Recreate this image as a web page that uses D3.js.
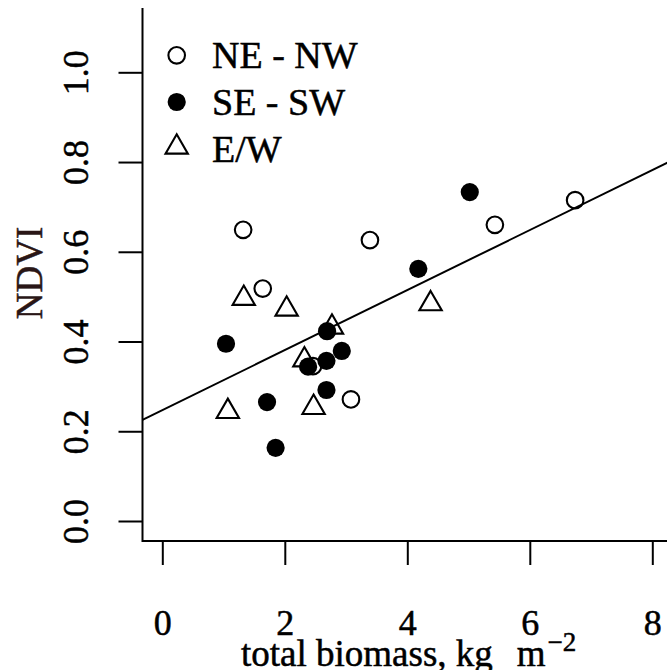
<!DOCTYPE html>
<html>
<head>
<meta charset="utf-8">
<script src="https://cdn.jsdelivr.net/npm/d3@7"></script>
<style>
  html, body { margin: 0; padding: 0; background: #fff; }
  svg { display: block; }
  svg text { font-family: "Liberation Serif", "Times New Roman", serif !important; }
</style>
</head>
<body>
<svg id="chart" width="667" height="670" font-family="'Liberation Serif', serif"></svg>
<script>
// Total biomass (kg m^-2) vs NDVI, grouped by slope aspect
const neNwX = [1.32, 1.64, 3.39, 5.43, 6.74, 3.08, 2.46];
const neNwY = [0.649, 0.518, 0.626, 0.660, 0.715, 0.271, 0.345];

const seSwX = [1.04, 1.71, 1.85, 2.38, 2.68, 2.93, 2.69, 2.68, 5.02, 4.18];
const seSwY = [0.395, 0.265, 0.163, 0.344, 0.357, 0.379, 0.423, 0.292, 0.733, 0.562];

const ewX = [1.33, 2.03, 1.07, 2.32, 2.77, 2.47, 4.38];
const ewY = [0.496, 0.472, 0.244, 0.359, 0.432, 0.253, 0.484];

const xTicks = [0, 2, 4, 6, 8];
const yTicks = [0.0, 0.2, 0.4, 0.6, 0.8, 1.0];

// Linear fit NDVI = a + b * biomass
const fitIntercept = 0.247;
const fitSlope = 0.0669;

const legendLabels = ["NE - NW", "SE - SW", "E/W"];

const serif = "'Liberation Serif', 'Times New Roman', serif";
const textStroke = 0.5;
const svg = d3.select("#chart");

const x = d3.scaleLinear().domain([0, 8]).range([162.3, 652.3]);
const y = d3.scaleLinear().domain([0, 1]).range([521, 72.3]);

// Plot region bounds (data units)
const xMin = x.invert(142.5), xMax = x.invert(700);
const yMin = y.invert(541), yMax = y.invert(8);

const circleR = 8.3;
const filledR = 9.1;
const markStroke = 2.1;
// Triangle geometry in the style of R's pch = 2
const triR = 1.555 * circleR, triXc = 1.347 * circleR, triYc = 0.778 * circleR;
const triPath = `M0,${-triR}L${triXc},${triYc}L${-triXc},${triYc}Z`;

svg.append("defs").append("clipPath").attr("id", "plotClip")
  .append("rect")
  .attr("x", x(xMin)).attr("y", y(yMax))
  .attr("width", x(xMax) - x(xMin)).attr("height", y(yMin) - y(yMax));

// Axes
const xAxis = d3.axisBottom(x).tickValues(xTicks).tickSize(24).tickSizeOuter(0)
  .tickFormat(d3.format("d"));
const gx = svg.append("g").attr("transform", `translate(0,${y(yMin)})`).call(xAxis)
  .attr("font-family", serif).attr("font-size", 36);
gx.select(".domain").remove();
gx.selectAll(".tick line").attr("stroke", "#000").attr("stroke-width", 2);
gx.selectAll(".tick text")
  .attr("y", 94).attr("dy", 0)
  .attr("font-family", serif).attr("font-size", 36)
  .attr("fill", "#000").attr("stroke", "#000").attr("stroke-width", textStroke);

const yAxis = d3.axisLeft(y).tickValues(yTicks).tickSize(24).tickSizeOuter(0)
  .tickFormat(d3.format(".1f"));
const gy = svg.append("g").attr("transform", `translate(${x(xMin)},0)`).call(yAxis)
  .attr("font-family", serif).attr("font-size", 36);
gy.select(".domain").remove();
gy.selectAll(".tick line").attr("stroke", "#000").attr("stroke-width", 2);
gy.selectAll(".tick text")
  .attr("x", null).attr("dy", 0)
  .attr("transform", "translate(-54.5,0) rotate(-90)")
  .attr("text-anchor", "middle")
  .attr("font-family", serif).attr("font-size", 36)
  .attr("fill", "#000").attr("stroke", "#000").attr("stroke-width", textStroke);

// L-shaped frame
svg.append("path")
  .attr("d", `M${x(xMin)},${y(yMax)}L${x(xMin)},${y(yMin)}L${x(xMax)},${y(yMin)}`)
  .attr("fill", "none").attr("stroke", "#000").attr("stroke-width", 2);

// Regression line
svg.append("line")
  .attr("clip-path", "url(#plotClip)")
  .attr("x1", x(xMin)).attr("y1", y(fitIntercept + fitSlope * xMin))
  .attr("x2", x(xMax)).attr("y2", y(fitIntercept + fitSlope * xMax))
  .attr("stroke", "#000").attr("stroke-width", 2);

// Points
const plot = svg.append("g").attr("clip-path", "url(#plotClip)");

plot.selectAll("path.ew").data(d3.zip(ewX, ewY)).join("path")
  .attr("class", "ew")
  .attr("d", triPath)
  .attr("transform", d => `translate(${x(d[0])},${y(d[1])})`)
  .attr("fill", "none").attr("stroke", "#000").attr("stroke-width", markStroke);

plot.selectAll("circle.nenw").data(d3.zip(neNwX, neNwY)).join("circle")
  .attr("class", "nenw")
  .attr("cx", d => x(d[0])).attr("cy", d => y(d[1])).attr("r", circleR)
  .attr("fill", "none").attr("stroke", "#000").attr("stroke-width", markStroke);

plot.selectAll("circle.sesw").data(d3.zip(seSwX, seSwY)).join("circle")
  .attr("class", "sesw")
  .attr("cx", d => x(d[0])).attr("cy", d => y(d[1])).attr("r", filledR)
  .attr("fill", "#000");

// Legend
const legend = svg.append("g");
const legendBaselines = [68.3, 115, 161.7];
const legendSymX = 176.7, legendTextX = 212;
legendLabels.forEach((lab, i) => {
  const cy = legendBaselines[i] - 13;
  if (i === 0) {
    legend.append("circle").attr("cx", legendSymX).attr("cy", cy).attr("r", circleR)
      .attr("fill", "none").attr("stroke", "#000").attr("stroke-width", markStroke);
  } else if (i === 1) {
    legend.append("circle").attr("cx", legendSymX).attr("cy", cy).attr("r", filledR)
      .attr("fill", "#000");
  } else {
    legend.append("path").attr("d", triPath)
      .attr("transform", `translate(${legendSymX},${cy - 1.5})`)
      .attr("fill", "none").attr("stroke", "#000").attr("stroke-width", markStroke);
  }
  legend.append("text").attr("x", legendTextX).attr("y", legendBaselines[i])
    .attr("font-family", serif).attr("font-size", 38)
    .attr("fill", "#000").attr("stroke", "#000").attr("stroke-width", textStroke)
    .text(lab);
});

// Axis titles
svg.append("text")
  .attr("transform", `translate(42,273) rotate(-90)`)
  .attr("text-anchor", "middle")
  .attr("font-family", serif).attr("font-size", 37)
  .attr("fill", "#2a1616").attr("stroke", "#2a1616").attr("stroke-width", textStroke)
  .text("NDVI");

const xt = svg.append("text").attr("x", 241).attr("y", 666)
  .attr("font-family", serif).attr("font-size", 37)
  .attr("fill", "#000").attr("stroke", "#000").attr("stroke-width", textStroke);
xt.append("tspan").text("total biomass, kg");
xt.append("tspan").attr("dx", 24).text("m");
xt.append("tspan").attr("dx", 2).attr("dy", -15).attr("font-size", 27).text("\u22122");
</script>
</body>
</html>
